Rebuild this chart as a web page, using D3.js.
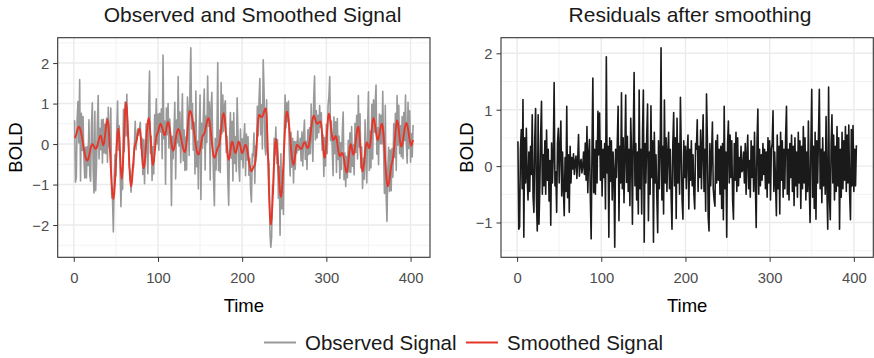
<!DOCTYPE html>
<html>
<head>
<meta charset="utf-8">
<script src="https://cdn.jsdelivr.net/npm/d3@7"></script>
<style>
  body { margin: 0; background: #fff; }
  svg text { font-family: "Liberation Sans", Arial, Helvetica, sans-serif; }
  .axis text { fill: #4d4d4d; font-size: 14.8px; }
  .axis line { stroke: #333; stroke-width: 1px; }
  .grid-major { stroke: #ebebeb; stroke-width: 1.4px; }
  .grid-minor { stroke: #f2f2f2; stroke-width: 0.9px; }
  .axis-title { fill: #000; font-size: 18.5px; }
  .plot-title { fill: #1a1a1a; font-size: 21px; }
  .legend text { fill: #1a1a1a; font-size: 20.5px; }
</style>
</head>
<body>
<div id="chart"></div>
<script>
// observed BOLD signal, t = 1..403
const observed = [
  0.59,-0.94,-0.83,0.63,1.05,0.03,1.59,-0.91,0.76,-0.16,
  0.68,-0.32,-0.84,-0.08,-0.84,-0.06,-0.53,0.60,-0.76,-0.92,
  0.45,1.02,-0.62,-1.21,0.81,-1.15,-0.50,0.51,1.20,-0.37,
  0.39,-0.14,0.60,-0.47,0.61,-0.22,0.49,-0.24,0.64,-0.45,
  0.91,-0.07,0.04,0.89,-1.33,-1.35,-2.17,-0.83,-0.25,-0.79,
  0.30,1.06,-0.15,0.45,-0.64,-1.55,-0.70,-1.12,0.86,-0.19,
  1.04,0.20,1.23,0.21,0.14,-0.58,-0.68,-1.19,-0.86,-0.50,
  -0.58,0.00,0.56,-0.14,0.18,0.37,0.22,0.38,0.54,-0.10,
  0.15,-0.75,0.11,-0.98,-0.08,0.50,-0.22,-0.73,0.94,1.80,
  -0.23,0.19,-0.90,-0.06,-0.74,0.72,0.19,1.12,0.00,0.74,
  -0.15,0.76,0.30,0.87,-0.36,2.20,0.13,0.57,-0.99,0.89,
  0.23,1.00,-0.10,0.62,0.11,-1.52,0.19,-0.36,0.28,1.03,
  -0.86,0.59,0.03,1.67,-0.05,0.79,-0.46,0.29,1.24,-0.41,
  0.35,-0.65,0.17,-0.64,1.16,0.77,-0.28,1.37,2.38,0.37,
  1.00,-0.15,0.53,-0.74,1.31,-0.56,0.07,-1.11,0.37,1.21,
  -1.37,0.51,-0.10,0.78,1.36,-0.64,0.69,0.04,1.68,0.44,
  1.04,-0.89,0.86,1.28,0.04,-0.84,-1.52,0.14,-0.64,0.14,
  2.01,-0.66,0.34,-0.70,1.52,0.26,1.21,0.31,0.93,1.07,
  -0.21,0.20,-0.86,-1.51,0.08,0.78,-0.35,0.56,-0.91,0.77,
  -0.48,0.18,-0.68,1.14,0.32,-0.54,-0.92,0.37,-0.38,0.13,
  -0.59,0.13,0.50,-0.78,0.25,-0.39,0.18,-0.77,-0.35,-1.14,
  -1.43,-0.24,-0.29,0.27,-0.97,-0.05,-0.29,0.93,0.20,1.07,
  1.62,0.23,0.97,-0.12,2.08,1.30,-0.04,-0.27,1.09,-0.18,
  -0.35,-0.49,-2.19,-2.55,-2.30,-1.01,-1.23,0.14,-0.27,0.42,
  -0.48,0.11,-1.34,-0.55,-2.25,-0.24,-1.60,-0.66,-1.74,0.38,
  1.21,0.40,1.02,0.55,1.06,-0.20,-0.79,0.29,-0.57,0.14,
  -0.96,0.06,-0.62,0.06,-0.22,0.32,-0.15,-0.13,0.14,-0.42,
  0.30,-0.54,0.22,0.59,-0.38,0.07,-0.63,0.35,-0.26,0.40,
  -0.24,0.99,0.25,-0.43,1.15,1.68,0.10,0.83,0.15,0.71,
  0.28,0.95,0.41,0.77,-0.15,0.22,-0.80,0.16,-0.54,0.49,
  -0.23,0.95,1.15,1.67,0.08,0.57,-0.14,-0.78,0.67,-0.23,
  0.55,-0.70,0.63,-0.38,0.20,-0.85,0.03,-0.63,0.33,0.79,
  -0.88,-0.22,-1.05,-0.30,-0.83,0.09,-0.69,0.28,-0.70,0.43,
  -0.55,-0.01,-0.76,0.51,-0.21,0.71,-0.37,1.20,-0.07,0.75,
  -0.59,-0.07,-1.10,-0.35,-0.87,0.60,-0.38,-0.96,0.41,1.29,
  -0.65,0.32,-0.59,0.98,-0.37,1.09,0.29,1.00,1.46,-0.25,
  0.40,-0.51,0.74,0.01,0.71,0.00,1.30,-0.19,-1.22,0.96,
  -1.30,-1.91,-0.64,-0.08,-1.17,-0.15,-1.15,-0.11,-0.82,0.50,
  -0.33,0.76,-0.65,1.20,-0.03,0.96,-0.24,0.45,-0.31,0.68,
  -0.36,0.78,0.08,1.21,0.02,-0.47,1.03,-0.11,0.82,-0.45,
  0.26,-0.32,0.47
];

// smoothed signal (red line)
const smoothed = [
  0.15,0.18,0.25,0.33,0.40,0.43,0.41,0.35,0.26,0.14,
  0.01,-0.12,-0.24,-0.33,-0.39,-0.41,-0.38,-0.31,-0.21,-0.10,
  -0.03,0.00,-0.02,-0.06,-0.10,-0.12,-0.10,-0.04,0.05,0.13,
  0.19,0.21,0.15,0.03,-0.03,0.03,0.19,0.38,0.54,0.60,
  0.50,0.23,-0.16,-0.59,-0.98,-1.25,-1.35,-1.23,-0.92,-0.49,
  -0.05,0.26,0.38,0.20,-0.24,-0.67,-0.85,-0.67,-0.20,0.37,
  0.84,1.02,0.88,0.51,-0.01,-0.53,-0.90,-1.04,-0.94,-0.68,
  -0.36,-0.10,0.00,0.04,0.13,0.25,0.34,0.38,0.29,0.05,
  -0.26,-0.50,-0.59,-0.51,-0.28,0.03,0.33,0.56,0.64,0.53,
  0.24,-0.11,-0.40,-0.51,-0.44,-0.25,-0.01,0.18,0.25,0.29,
  0.38,0.46,0.50,0.47,0.40,0.32,0.25,0.22,0.27,0.39,
  0.50,0.55,0.50,0.37,0.20,0.02,-0.11,-0.16,-0.12,-0.03,
  0.11,0.24,0.33,0.37,0.35,0.29,0.19,0.09,-0.02,-0.12,
  -0.18,-0.20,-0.13,0.06,0.31,0.57,0.75,0.82,0.79,0.72,
  0.60,0.45,0.28,0.11,-0.04,-0.16,-0.23,-0.26,-0.23,-0.14,
  -0.02,0.11,0.20,0.23,0.26,0.33,0.44,0.54,0.61,0.64,
  0.59,0.46,0.26,0.04,-0.16,-0.29,-0.34,-0.31,-0.24,-0.16,
  -0.09,-0.06,-0.01,0.15,0.35,0.56,0.71,0.76,0.68,0.47,
  0.19,-0.10,-0.31,-0.39,-0.32,-0.17,0.00,0.06,0.02,-0.08,
  -0.18,-0.22,-0.18,-0.08,0.02,0.06,0.02,-0.08,-0.18,-0.22,
  -0.19,-0.12,-0.05,-0.02,-0.05,-0.14,-0.27,-0.42,-0.55,-0.64,
  -0.67,-0.64,-0.59,-0.55,-0.52,-0.40,-0.09,0.29,0.60,0.72,
  0.71,0.68,0.67,0.68,0.73,0.80,0.86,0.88,0.69,0.17,
  -0.55,-1.27,-1.79,-1.98,-1.84,-1.46,-0.93,-0.41,-0.02,0.12,
  0.02,-0.24,-0.59,-0.95,-1.21,-1.30,-1.20,-0.91,-0.48,-0.02,
  0.41,0.70,0.80,0.75,0.61,0.40,0.15,-0.11,-0.32,-0.46,
  -0.51,-0.44,-0.27,-0.09,-0.02,-0.03,-0.05,-0.08,-0.11,-0.12,
  -0.10,-0.04,0.02,0.04,0.02,-0.03,-0.08,-0.10,-0.06,0.05,
  0.21,0.39,0.55,0.66,0.70,0.67,0.60,0.53,0.50,0.51,
  0.53,0.55,0.56,0.47,0.25,-0.03,-0.25,-0.34,-0.24,0.04,
  0.37,0.65,0.75,0.69,0.53,0.32,0.16,0.10,0.12,0.17,
  0.20,0.15,0.03,-0.13,-0.25,-0.30,-0.27,-0.23,-0.22,-0.27,
  -0.38,-0.52,-0.64,-0.70,-0.63,-0.46,-0.24,-0.07,0.00,-0.07,
  -0.20,-0.26,-0.21,-0.09,0.09,0.26,0.38,0.43,0.33,0.05,
  -0.29,-0.57,-0.67,-0.60,-0.42,-0.20,-0.03,0.04,0.01,-0.07,
  -0.10,-0.03,0.16,0.38,0.57,0.64,0.59,0.45,0.29,0.15,
  0.10,0.14,0.24,0.36,0.46,0.50,0.42,0.21,-0.10,-0.44,
  -0.75,-0.96,-1.04,-0.99,-0.87,-0.70,-0.55,-0.46,-0.37,-0.20,
  0.02,0.26,0.47,0.58,0.52,0.36,0.16,0.00,-0.06,-0.02,
  0.09,0.23,0.38,0.48,0.52,0.48,0.38,0.24,0.10,0.00,
  -0.04,0.03,0.10
];

// residuals after smoothing
const residuals = [
  0.44,-1.12,-1.08,0.30,0.65,-0.40,1.18,-1.26,0.50,-0.30,
  0.67,-0.20,-0.60,0.25,-0.45,0.35,-0.15,0.91,-0.55,-0.82,
  0.48,1.02,-0.60,-1.15,0.91,-1.03,-0.40,0.55,1.15,-0.50,
  0.20,-0.35,0.45,-0.50,0.64,-0.25,0.30,-0.62,0.10,-1.05,
  0.41,-0.30,0.20,1.48,-0.35,-0.10,-0.82,0.40,0.67,-0.30,
  0.35,0.80,-0.53,0.25,-0.40,-0.88,0.15,-0.45,1.06,-0.56,
  0.20,-0.82,0.35,-0.30,0.15,-0.05,0.22,-0.15,0.08,0.18,
  -0.22,0.10,0.56,-0.18,0.05,0.12,-0.12,0.00,0.25,-0.15,
  0.41,-0.25,0.70,-0.47,0.20,0.47,-0.55,-1.29,0.30,1.56,
  -0.47,0.30,-0.50,0.45,-0.30,0.97,0.20,0.94,-0.25,0.45,
  -0.53,0.30,-0.20,0.40,-0.76,1.94,-0.12,0.35,-1.26,0.50,
  -0.27,0.45,-0.60,0.25,-0.09,-1.44,0.30,-0.20,0.40,1.06,
  -0.97,0.35,-0.30,1.30,-0.40,0.50,-0.65,0.20,1.26,-0.29,
  0.53,-0.45,0.30,-0.70,0.85,0.20,-1.03,0.55,1.66,-0.35,
  0.40,-0.60,0.25,-0.85,1.35,-0.40,0.30,-0.85,0.60,1.35,
  -1.35,0.40,-0.30,0.55,1.10,-0.97,0.25,-0.50,1.07,-0.20,
  0.45,-1.35,0.60,-0.30,0.20,-0.55,-1.18,0.45,-0.40,0.30,
  2.10,-0.60,0.35,-0.85,1.17,-0.30,0.50,-0.45,0.25,0.60,
  -0.40,0.30,-0.55,-1.12,0.40,0.95,-0.35,0.50,-0.93,0.85,
  -0.30,0.40,-0.50,1.22,0.30,-0.60,-0.94,0.45,-0.20,0.35,
  -0.40,0.25,0.55,-0.76,0.30,-0.25,0.45,-0.35,0.20,-0.50,
  -0.76,0.40,0.30,0.82,-0.45,0.35,-0.20,0.64,-0.40,0.35,
  0.91,-0.45,0.30,-0.80,1.28,0.50,-0.90,-1.15,0.40,-0.35,
  0.20,0.78,-0.40,-0.60,-0.71,0.45,-0.30,0.55,-0.25,0.30,
  -0.50,0.35,-0.75,0.40,-0.95,1.06,-0.40,0.25,-1.26,0.40,
  0.80,-0.30,0.55,-0.20,0.45,-0.60,-0.94,0.40,-0.25,0.60,
  -0.45,0.50,-0.35,0.15,-0.20,0.35,-0.10,-0.05,0.25,-0.30,
  0.40,-0.50,0.20,0.55,-0.40,0.10,-0.55,0.45,-0.20,0.35,
  -0.45,0.60,-0.30,-1.09,0.45,1.01,-0.50,0.30,-0.35,0.20,
  -0.25,0.40,-0.15,0.30,-0.40,0.25,-0.55,0.50,-0.30,0.45,
  -0.60,0.30,0.40,0.98,-0.45,0.25,-0.30,-0.88,0.55,-0.40,
  0.35,-0.85,0.60,-0.25,0.45,-0.55,0.30,-0.40,0.55,1.06,
  -0.50,0.30,-0.60,0.40,-0.20,0.55,-0.45,0.35,-0.70,0.50,
  -0.35,0.25,-0.55,0.60,-0.30,0.45,-0.75,0.35,-0.40,0.70,
  -0.30,0.50,-0.60,0.25,-0.45,0.80,-0.35,-1.00,0.40,1.36,
  -0.55,0.35,-0.75,0.60,-0.94,0.45,-0.30,0.55,1.36,-0.40,
  0.30,-0.65,0.50,-0.35,0.25,-0.50,0.88,-0.40,-1.12,1.40,
  -0.55,-0.95,0.40,0.91,-0.30,0.55,-0.60,0.35,-0.45,0.70,
  -0.35,0.50,-1.12,0.30,-0.55,0.60,-0.40,0.45,-0.25,0.70,
  -0.45,0.55,-0.30,0.73,-0.50,-0.95,0.65,-0.35,0.72,-0.45,
  0.30,-0.35,0.37
];

const time = d3.range(1, observed.length + 1);

const xTicks = [0, 100, 200, 300, 400];
const yTicksLeft = [-2, -1, 0, 1, 2];
const yTicksRight = [-1, 0, 1, 2];
const titles = ["Observed and Smoothed Signal", "Residuals after smoothing"];
const legendLabels = ["Observed Signal", "Smoothed Signal"];
const colors = { observed: "#999999", smoothed: "#e4372a", residual: "#1a1a1a" };

const width = 874, height = 358;
const fmt = d3.format("d");

const svg = d3.select("#chart").append("svg")
  .attr("width", width)
  .attr("height", height);

// ggplot style 5% expansion
function expand([a, b]) {
  const d = (b - a) * 0.05;
  return [a - d, b + d];
}

function minorBreaks(ticks, domain) {
  const step = ticks[1] - ticks[0];
  const out = [];
  for (let v = ticks[0] - step / 2; v <= ticks[ticks.length - 1] + step; v += step) {
    if (v >= domain[0] && v <= domain[1]) out.push(v);
  }
  return out;
}

function drawPanel(box, series, yTicks, title, titleX, yTitleX) {
  const allY = series.flatMap(s => s.values);
  const x = d3.scaleLinear().domain(expand(d3.extent(time))).range([box.x0, box.x1]);
  const y = d3.scaleLinear().domain(expand(d3.extent(allY))).range([box.y1, box.y0]);

  const g = svg.append("g");

  g.append("rect")
    .attr("x", box.x0).attr("y", box.y0)
    .attr("width", box.x1 - box.x0).attr("height", box.y1 - box.y0)
    .attr("fill", "#fff");

  // grid
  const xMinor = minorBreaks(xTicks, x.domain());
  const yMinor = minorBreaks(yTicks, y.domain());
  g.selectAll(".gx-minor").data(xMinor).join("line")
    .attr("class", "grid-minor")
    .attr("x1", d => x(d)).attr("x2", d => x(d))
    .attr("y1", box.y0).attr("y2", box.y1);
  g.selectAll(".gy-minor").data(yMinor).join("line")
    .attr("class", "grid-minor")
    .attr("x1", box.x0).attr("x2", box.x1)
    .attr("y1", d => y(d)).attr("y2", d => y(d));
  g.selectAll(".gx-major").data(xTicks).join("line")
    .attr("class", "grid-major")
    .attr("x1", d => x(d)).attr("x2", d => x(d))
    .attr("y1", box.y0).attr("y2", box.y1);
  g.selectAll(".gy-major").data(yTicks).join("line")
    .attr("class", "grid-major")
    .attr("x1", box.x0).attr("x2", box.x1)
    .attr("y1", d => y(d)).attr("y2", d => y(d));

  // lines
  const line = d3.line()
    .x((d, i) => x(time[i]))
    .y(d => y(d));
  series.forEach(s => {
    g.append("path")
      .datum(s.values)
      .attr("fill", "none")
      .attr("stroke", s.color)
      .attr("stroke-width", s.width)
      .attr("stroke-linejoin", "round")
      .attr("d", line);
  });

  // border
  g.append("rect")
    .attr("x", box.x0).attr("y", box.y0)
    .attr("width", box.x1 - box.x0).attr("height", box.y1 - box.y0)
    .attr("fill", "none")
    .attr("stroke", "#333")
    .attr("stroke-width", 1.1);

  // axes
  g.append("g")
    .attr("class", "axis")
    .attr("transform", `translate(0,${box.y1})`)
    .call(d3.axisBottom(x).tickValues(xTicks).tickFormat(fmt).tickSize(4.5).tickSizeOuter(0))
    .call(a => a.select(".domain").remove())
    .selectAll("text")
    .attr("y", 26).attr("dy", 0);

  g.append("g")
    .attr("class", "axis")
    .attr("transform", `translate(${box.x0},0)`)
    .call(d3.axisLeft(y).tickValues(yTicks).tickFormat(fmt).tickSize(4.5).tickSizeOuter(0))
    .call(a => a.select(".domain").remove())
    .selectAll("text")
    .attr("x", -8.5).attr("dy", "0.36em");

  // titles
  g.append("text")
    .attr("class", "plot-title")
    .attr("x", titleX).attr("y", 22.3)
    .attr("text-anchor", "middle")
    .text(title);

  g.append("text")
    .attr("class", "axis-title")
    .attr("x", (box.x0 + box.x1) / 2).attr("y", 311.5)
    .attr("text-anchor", "middle")
    .text("Time");

  g.append("text")
    .attr("class", "axis-title")
    .attr("transform", `translate(${yTitleX},${(box.y0 + box.y1) / 2}) rotate(-90)`)
    .attr("text-anchor", "middle")
    .text("BOLD");
}

drawPanel(
  { x0: 57.7, x1: 430, y0: 37.7, y1: 257.3 },
  [
    { values: observed, color: colors.observed, width: 1.6 },
    { values: smoothed, color: colors.smoothed, width: 1.9 }
  ],
  yTicksLeft, titles[0], 252.5, 21.7
);

drawPanel(
  { x0: 501, x1: 873.3, y0: 37.7, y1: 257.3 },
  [
    { values: residuals, color: colors.residual, width: 1.6 }
  ],
  yTicksRight, titles[1], 690, 472.7
);

// legend
const legend = svg.append("g").attr("class", "legend");
const legendItems = [
  { label: legendLabels[0], color: colors.observed, x: 264 },
  { label: legendLabels[1], color: colors.smoothed, x: 466 }
];
legendItems.forEach(item => {
  legend.append("line")
    .attr("x1", item.x).attr("x2", item.x + 32)
    .attr("y1", 342.5).attr("y2", 342.5)
    .attr("stroke", item.color)
    .attr("stroke-width", 2);
  legend.append("text")
    .attr("x", item.x + 41).attr("y", 350)
    .text(item.label);
});
</script>
</body>
</html>
